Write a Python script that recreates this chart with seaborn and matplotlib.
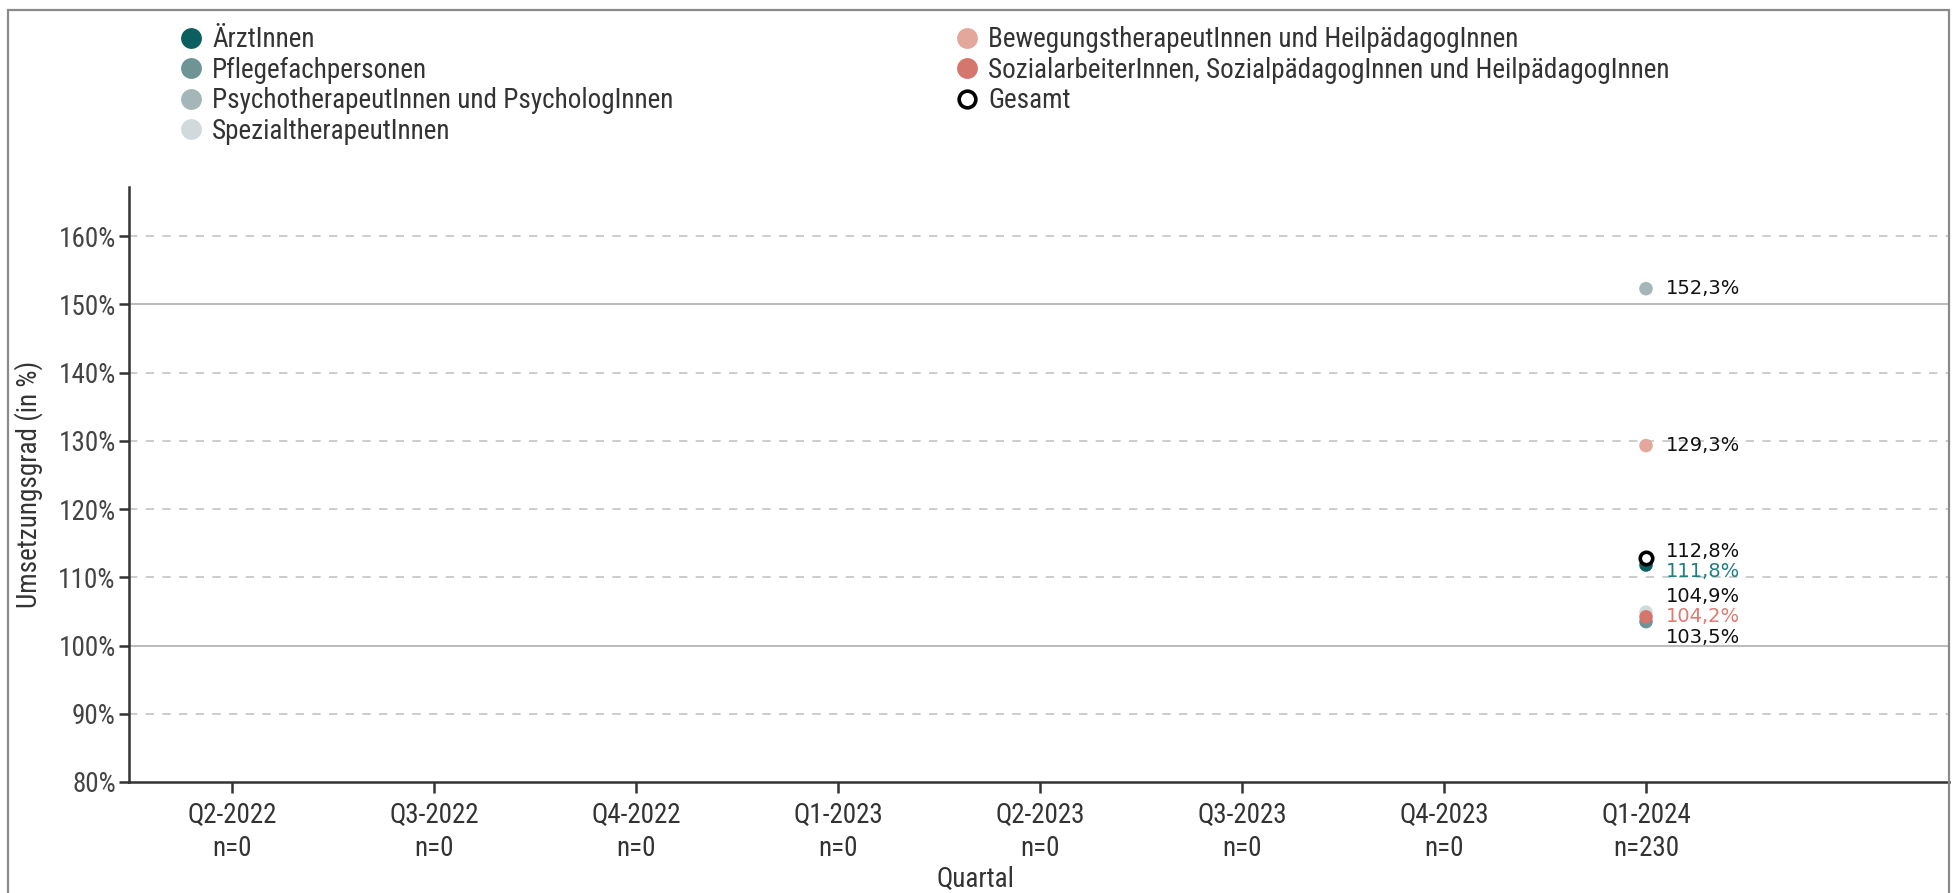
import matplotlib
matplotlib.use("Agg")
import matplotlib.pyplot as plt
import matplotlib.font_manager as fm
import seaborn as sns
import pandas as pd
import numpy as np
from matplotlib.lines import Line2D
from matplotlib.patches import Rectangle

# ---------------- data ----------------
quarters = ["Q2-2022", "Q3-2022", "Q4-2022", "Q1-2023", "Q2-2023", "Q3-2023", "Q4-2023", "Q1-2024"]
n_values = [0, 0, 0, 0, 0, 0, 0, 230]

groups = [
    "ÄrztInnen",
    "Pflegefachpersonen",
    "PsychotherapeutInnen und PsychologInnen",
    "SpezialtherapeutInnen",
    "BewegungstherapeutInnen und HeilpädagogInnen",
    "SozialarbeiterInnen, SozialpädagogInnen und HeilpädagogInnen",
]
group_colors = ["#0b5f5f", "#6e9496", "#a4b6b8", "#d2d9dc", "#e3a79c", "#d5766c"]
label_colors = ["#1f7f80", "#111111", "#111111", "#111111", "#111111", "#e07a70"]

# values for Q1-2024 (other quarters: no data)
values_q1_2024 = [111.8, 103.5, 152.3, 104.9, 129.3, 104.2]
gesamt_label = "Gesamt"
gesamt_q1_2024 = 112.8

yticks = [80, 90, 100, 110, 120, 130, 140, 150, 160]

# ---------------- style ----------------
sns.set_theme(style="white")

# pick a condensed font if one is installed
names = {f.name for f in fm.fontManager.ttflist}
cond_stretch = {f.name for f in fm.fontManager.ttflist
                if str(f.stretch) in ("condensed", "semi-condensed", "extra-condensed")
                or (isinstance(f.stretch, int) and f.stretch < 500)}
main_font = None
stretch = "normal"
for cand in ["Liberation Sans Narrow", "Roboto Condensed", "Open Sans Condensed",
             "DejaVu Sans Condensed", "Noto Sans Condensed"]:
    if cand in names:
        main_font = cand
        break
if main_font is None and "DejaVu Sans" in cond_stretch:
    main_font = "DejaVu Sans"
    stretch = "condensed"
if main_font is None:
    main_font = "DejaVu Sans"
plt.rcParams["font.family"] = [main_font, "DejaVu Sans"]
plt.rcParams["font.stretch"] = stretch
is_cond = (main_font != "DejaVu Sans") or stretch == "condensed"
fs = 19.5 if is_cond else 16.5

W, H = 1952, 893
fig = plt.figure(figsize=(W / 100, H / 100), dpi=100)
ax = fig.add_axes([129 / W, 1 - 782 / H, (1949 - 129) / W, (782 - 187) / H])

df = pd.DataFrame({
    "Quartal": [quarters[-1]] * len(groups),
    "x": [len(quarters) - 1] * len(groups),
    "Gruppe": groups,
    "Wert": values_q1_2024,
})
draw_order = [3, 2, 4, 1, 5, 0]
dfo = df.iloc[draw_order]
sns.scatterplot(data=dfo, x="x", y="Wert", hue="Gruppe", hue_order=groups,
                palette=group_colors, s=95, linewidth=0, ax=ax, legend=False, zorder=3)
ax.scatter([len(quarters) - 1], [gesamt_q1_2024], s=80, facecolor="white",
           edgecolor="black", linewidth=2.6, zorder=4)

# value labels with simple de-overlap
lab_vals = values_q1_2024 + [gesamt_q1_2024]
lab_cols = label_colors + ["#111111"]
order = np.argsort(lab_vals)[::-1]
gap = 3.0
clusters = []
for i in order:
    if clusters and (lab_vals[clusters[-1][-1]] - lab_vals[i]) < gap:
        clusters[-1].append(i)
    else:
        clusters.append([i])
pos = {}
for c in clusters:
    center = np.mean([lab_vals[i] for i in c])
    k = len(c)
    for j, i in enumerate(c):
        pos[i] = center + (k - 1) / 2 * gap - j * gap
for i in range(len(lab_vals)):
    ax.annotate(f"{lab_vals[i]:.1f}%".replace(".", ","), xy=(len(quarters) - 1, pos[i]),
                xytext=(14, 0), textcoords="offset points", va="center", ha="left",
                fontsize=14, color=lab_cols[i], family=["DejaVu Sans"],
                fontstretch="normal", zorder=5)

# axes
ax.set_xlim(-0.51, len(quarters) + 0.5)
ax.set_ylim(80, 167.2)
ax.set_xticks(range(len(quarters)))
ax.set_xticklabels([f"{q}\nn={n}" for q, n in zip(quarters, n_values)],
                   fontsize=fs, color="#333333", linespacing=1.3)
ax.set_yticks(yticks)
ax.set_yticklabels([f"{v}%" for v in yticks], fontsize=fs, color="#444444")
for v in yticks[1:]:
    if v in (100, 150):
        ax.axhline(v, color="#b5b5b5", lw=1.3, zorder=1)
    else:
        ax.axhline(v, color="#c4c4c4", lw=1.2, ls=(0, (5, 5)), zorder=1)
for s in ["top", "right"]:
    ax.spines[s].set_visible(False)
for s in ["left", "bottom"]:
    ax.spines[s].set_color("#333333")
    ax.spines[s].set_linewidth(1.8)
ax.tick_params(axis="y", length=7.5, width=1.8, color="#333333", left=True, pad=2)
ax.tick_params(axis="x", length=8, width=1.8, color="#333333", bottom=True, pad=6)
ax.set_xlabel("Quartal", fontsize=fs, color="#333333")
ax.xaxis.set_label_coords((975 - 129) / (1949 - 129), -(866 - 782) / (782 - 187))
ax.xaxis.label.set_va("top")
ax.set_ylabel("Umsetzungsgrad (in %)", fontsize=fs, color="#333333")
ax.yaxis.set_label_coords(-(129 - 43) / (1949 - 129), 0.5)

# legends
def handle(c, hollow=False):
    if hollow:
        return Line2D([], [], marker="o", ls="", markersize=12, markerfacecolor="white",
                      markeredgecolor="black", markeredgewidth=2.6)
    return Line2D([], [], marker="o", ls="", markersize=15, markerfacecolor=c,
                  markeredgewidth=0)

lsp = (30.7 - fs * 1.39) / (fs * 1.39) if is_cond else 0.32
h1 = [handle(group_colors[i]) for i in range(4)]
leg1 = fig.legend(h1, groups[:4], loc="upper left", bbox_to_anchor=(177 / W, 1 - 26 / H),
                  frameon=False, fontsize=fs, handlelength=1.0, handletextpad=0.3,
                  labelspacing=lsp, borderpad=0, borderaxespad=0)
h2 = [handle(group_colors[i]) for i in range(4, 6)] + [handle(None, hollow=True)]
leg2 = fig.legend(h2, groups[4:] + [gesamt_label], loc="upper left",
                  bbox_to_anchor=(953 / W, 1 - 26 / H),
                  frameon=False, fontsize=fs, handlelength=1.0, handletextpad=0.3,
                  labelspacing=lsp, borderpad=0, borderaxespad=0)
for lg in (leg1, leg2):
    for t in lg.get_texts():
        t.set_color("#333333")

# figure frame
fig.patches.append(Rectangle((8 / W, -0.1), (1949 - 8) / W, 1.1 - 10 / H,
                             transform=fig.transFigure, fill=False,
                             edgecolor="#8a8a8a", lw=1.6))

fig.savefig("out.png", dpi=100)
